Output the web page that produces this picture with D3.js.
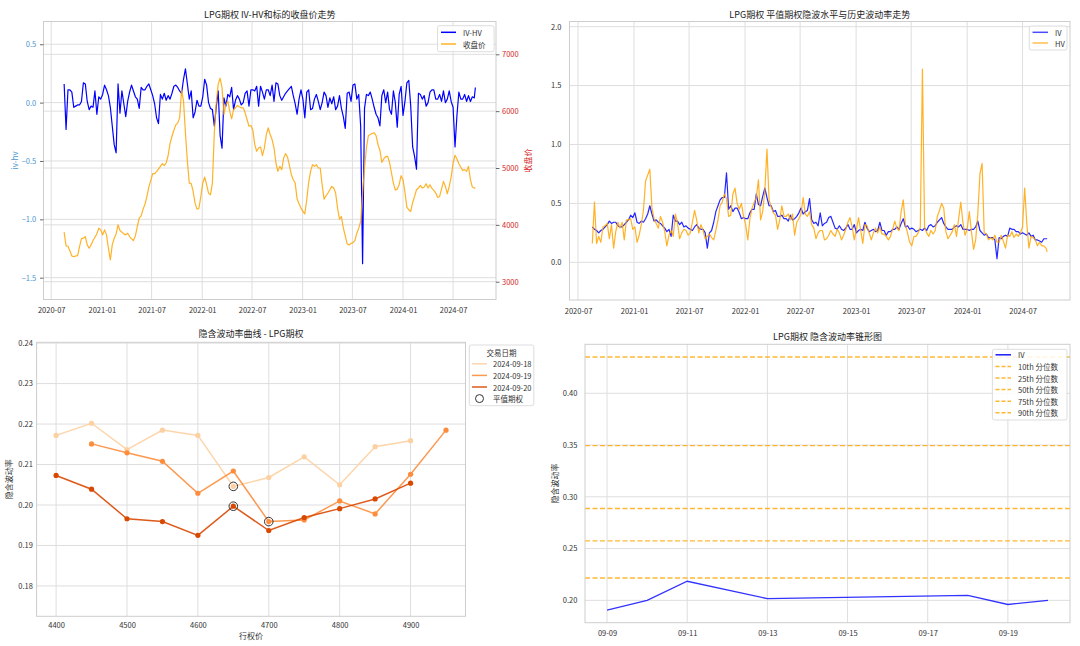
<!DOCTYPE html>
<html><head><meta charset="utf-8">
<script src="https://cdn.jsdelivr.net/npm/d3@7"></script>
<style>body{margin:0;background:#fff}svg{display:block}</style>
</head><body><svg id="chart" width="1080" height="646"></svg>
<script>
// ---------------- DATA ----------------
const weekStart = "2020-08-17";   // weekly observations, last one on lastDate
const lastDate = "2024-09-20";
const ivhv = [
 0.16,-0.23,0.11,0.11,0.09,-0.04,-0.03,-0.02,-0.02,0.01,
 0.17,0.16,0.01,-0.06,-0.03,-0.04,0.10,-0.10,0.05,0.03,
 0.07,0.15,0.11,0.06,-0.04,-0.20,-0.36,-0.43,0.16,-0.09,
 0.10,-0.01,-0.12,0.01,0.09,0.15,0.10,0.05,0.03,-0.05,
 0.13,0.11,0.11,0.14,0.16,0.11,0.06,-0.01,-0.13,-0.18,
 0.07,0.03,0.08,0.02,0.06,0.03,0.08,0.14,0.15,0.13,
 0.10,0.08,0.20,0.29,0.16,0.03,0.10,-0.13,-0.08,0.02,
 -0.03,-0.03,0.05,0.20,0.15,0.00,-0.05,-0.06,-0.20,-0.04,
 0.10,-0.28,-0.39,0.04,-0.03,0.07,0.05,0.13,-0.06,0.02,
 0.06,0.03,-0.02,0.00,0.08,0.10,-0.03,0.11,0.11,0.10,
 0.14,-0.03,0.14,0.09,0.03,0.11,0.11,0.06,0.15,0.01,
 0.17,0.16,0.06,0.02,0.05,0.08,0.10,0.12,0.14,0.06,
 -0.01,-0.10,0.03,0.11,0.03,-0.13,0.09,0.11,-0.06,-0.05,
 0.03,0.07,0.01,-0.06,0.00,0.09,0.06,-0.04,0.04,-0.01,
 0.05,-0.06,-0.03,0.06,-0.05,-0.12,-0.22,0.08,0.09,0.01,
 0.15,0.16,0.03,0.07,-0.20,-1.38,-0.05,0.07,0.06,0.09,
 0.03,-0.04,-0.10,-0.13,-0.20,0.06,0.11,0.00,0.09,-0.06,
 -0.10,0.10,0.00,-0.21,0.07,0.14,-0.11,0.01,0.17,0.19,
 -0.03,-0.38,-0.46,-0.57,0.08,0.07,0.03,0.06,-0.03,0.00,
 0.09,0.11,0.11,0.03,0.03,0.07,0.01,0.10,0.00,0.03,
 0.10,0.01,-0.04,-0.38,-0.11,0.09,0.03,0.03,0.07,0.01,
 0.06,0.01,0.05,0.04,0.13];
const closePrice = [
 3871,3629,3624,3541,3453,3441,3453,3459,3618,3759,
 3765,3794,3647,3588,3647,3724,3782,3841,3941,3912,
 3824,3912,3824,3588,3382,3647,3765,3841,4000,3900,
 3871,3841,3824,3853,3794,3753,3724,3806,3971,4118,
 4159,4276,4365,4500,4665,4782,4900,4900,4935,4982,
 5029,5076,5041,5088,5218,5429,5559,5665,5759,5794,
 5882,6371,6176,5618,5118,4735,4724,4588,4382,4276,
 4288,4500,4735,4841,4706,4559,4529,4735,5618,6147,
 6471,6582,6412,5941,6118,6176,6000,5865,6029,6059,
 6100,6076,6059,6059,5971,5853,5735,5747,5665,5412,
 5294,5353,5371,5218,5353,5588,5706,5588,5500,5353,
 5088,4941,5029,4971,5176,5253,5194,5041,4882,4794,
 4735,4453,4371,4294,4235,4194,4441,4747,4941,5059,
 5029,5059,5000,5000,4706,4453,4512,4559,4618,4676,
 4647,4559,4294,4100,4147,3941,3806,3665,3647,3676,
 3688,3724,3853,3941,4059,4559,5000,5353,5571,5588,
 5606,5618,5571,5412,5312,5100,5159,5200,5206,5100,
 4912,4735,4612,4629,4706,4865,4794,4571,4312,4265,
 4235,4394,4500,4618,4647,4694,4647,4665,4724,4647,
 4706,4641,4606,4559,4482,4500,4629,4765,4676,4547,
 4676,4841,5088,5224,5159,5076,5012,4959,4971,4941,
 5029,4794,4665,4647,4647];
const ivAtm = [
 0.30,0.28,0.27,0.25,0.27,0.28,0.30,0.32,0.35,0.33,
 0.34,0.34,0.31,0.30,0.30,0.32,0.34,0.36,0.40,0.38,
 0.42,0.34,0.33,0.35,0.34,0.37,0.41,0.48,0.41,0.35,
 0.36,0.34,0.33,0.31,0.29,0.26,0.28,0.22,0.40,0.35,
 0.35,0.32,0.34,0.30,0.31,0.29,0.28,0.27,0.30,0.32,
 0.29,0.28,0.28,0.25,0.12,0.25,0.27,0.34,0.43,0.48,
 0.53,0.55,0.55,0.76,0.45,0.48,0.43,0.46,0.46,0.42,
 0.37,0.38,0.37,0.37,0.42,0.45,0.45,0.58,0.49,0.48,
 0.56,0.63,0.55,0.48,0.48,0.43,0.44,0.39,0.39,0.40,
 0.37,0.37,0.35,0.40,0.36,0.37,0.39,0.42,0.46,0.41,
 0.43,0.44,0.54,0.36,0.33,0.34,0.31,0.42,0.31,0.33,
 0.34,0.38,0.39,0.34,0.29,0.28,0.31,0.28,0.27,0.29,
 0.32,0.28,0.28,0.32,0.25,0.27,0.28,0.27,0.34,0.29,
 0.26,0.27,0.28,0.26,0.27,0.34,0.27,0.27,0.23,0.26,
 0.26,0.28,0.28,0.30,0.28,0.33,0.37,0.30,0.31,0.28,
 0.29,0.28,0.26,0.27,0.28,0.27,0.29,0.27,0.31,0.32,
 0.30,0.31,0.34,0.36,0.38,0.33,0.30,0.28,0.28,0.28,
 0.30,0.31,0.30,0.32,0.28,0.28,0.28,0.27,0.28,0.28,
 0.30,0.35,0.27,0.25,0.23,0.24,0.21,0.21,0.21,0.19,
 0.03,0.21,0.20,0.22,0.23,0.22,0.29,0.28,0.28,0.26,
 0.26,0.24,0.25,0.24,0.23,0.25,0.22,0.23,0.19,0.19,
 0.18,0.17,0.20,0.20,0.20];
const hv = [
 0.16,0.51,0.16,0.22,0.17,0.30,0.31,0.33,0.20,0.32,
 0.12,0.26,0.34,0.29,0.34,0.19,0.36,0.36,0.37,0.28,
 0.30,0.17,0.23,0.32,0.44,0.69,0.74,0.79,0.46,0.37,
 0.33,0.29,0.39,0.34,0.26,0.14,0.23,0.27,0.22,0.41,
 0.33,0.20,0.25,0.28,0.27,0.23,0.25,0.34,0.44,0.36,
 0.25,0.32,0.27,0.20,0.22,0.24,0.21,0.19,0.27,0.36,
 0.48,0.51,0.58,0.54,0.39,0.40,0.58,0.63,0.50,0.45,
 0.50,0.39,0.32,0.19,0.37,0.46,0.51,0.55,0.70,0.36,
 0.43,0.61,0.96,0.53,0.47,0.42,0.40,0.28,0.36,0.48,
 0.39,0.39,0.41,0.36,0.41,0.23,0.34,0.37,0.41,0.55,
 0.41,0.39,0.43,0.32,0.29,0.20,0.25,0.27,0.27,0.19,
 0.20,0.23,0.27,0.24,0.22,0.28,0.25,0.19,0.23,0.28,
 0.34,0.38,0.30,0.19,0.28,0.38,0.27,0.16,0.32,0.31,
 0.25,0.19,0.25,0.29,0.25,0.30,0.24,0.24,0.22,0.19,
 0.22,0.28,0.35,0.29,0.27,0.43,0.53,0.32,0.25,0.17,
 0.14,0.22,0.22,0.25,0.30,1.64,0.30,0.25,0.22,0.27,
 0.24,0.27,0.39,0.44,0.50,0.46,0.26,0.20,0.23,0.26,
 0.32,0.22,0.37,0.51,0.34,0.23,0.28,0.43,0.26,0.11,
 0.19,0.41,0.75,0.84,0.25,0.24,0.19,0.21,0.19,0.23,
 0.17,0.17,0.23,0.18,0.12,0.23,0.22,0.26,0.21,0.24,
 0.22,0.25,0.30,0.63,0.33,0.12,0.22,0.21,0.19,0.14,
 0.17,0.14,0.14,0.12,0.09];

const yearTicks = ["2020-07-01","2021-01-01","2021-07-01","2022-01-01","2022-07-01","2023-01-01","2023-07-01","2024-01-01","2024-07-01"];
const ivhvTicks = [-1.5,-1.0,-0.5,0.0,0.5];
const priceTicks = [3000,4000,5000,6000,7000];
const volTicks = [0.0,0.5,1.0,1.5,2.0];

const strikes = [4400,4450,4500,4550,4600,4650,4700,4750,4800,4850,4900,4950];
const smileDates = ["2024-09-18","2024-09-19","2024-09-20"];
const smile0918 = [0.2172,0.2202,0.2137,0.2185,0.2172,0.2046,0.2068,0.2119,0.2050,0.2144,0.2159,null];
const smile0919 = [null,0.2151,0.2129,0.2108,0.2029,0.2084,0.1959,0.1963,0.2010,0.1978,0.2076,0.2185];
const smile0920 = [0.2073,0.2039,0.1966,0.1959,0.1925,0.1997,0.1937,0.1969,0.1991,0.2015,0.2054,null];
const atmStrike = [4650,4700,4650];
const atmIV = [0.2046,0.1959,0.1997];
const strikeTicks = [4400,4500,4600,4700,4800,4900];
const smileTicks = [0.18,0.19,0.20,0.21,0.22,0.23,0.24];

const coneDates = ["2024-09-09","2024-09-10","2024-09-11","2024-09-13","2024-09-18","2024-09-19","2024-09-20"];
const coneIV = [0.1906,0.2000,0.2184,0.2016,0.2048,0.1960,0.2000];
const pctLabels = ["10th 分位数","25th 分位数","50th 分位数","75th 分位数","90th 分位数"];
const pctValues = [0.2216,0.2574,0.2887,0.3494,0.4351];
const coneXTicks = ["2024-09-09","2024-09-11","2024-09-13","2024-09-15","2024-09-17","2024-09-19"];
const coneYTicks = [0.20,0.25,0.30,0.35,0.40];

// ---------------- HELPERS ----------------
const FONT = '"Noto Sans CJK SC","Noto Sans",sans-serif';
const TXT = "#333";
const GRID = "#dedede";
const parse = d3.utcParse("%Y-%m-%d");
const svg = d3.select("#chart");
const t0 = parse(weekStart);
const weekDates = ivhv.map((_, i) => i < ivhv.length - 1 ? d3.utcDay.offset(t0, 7 * i) : parse(lastDate));

function gridH(g, s, vals, x0, x1) {
  g.append("g").selectAll("line").data(vals).join("line")
   .attr("x1", x0).attr("x2", x1).attr("y1", d => s(d)).attr("y2", d => s(d))
   .attr("stroke", GRID).attr("stroke-width", 1);
}
function gridV(g, s, vals, y0, y1) {
  g.append("g").selectAll("line").data(vals).join("line")
   .attr("y1", y0).attr("y2", y1).attr("x1", d => s(d)).attr("x2", d => s(d))
   .attr("stroke", GRID).attr("stroke-width", 1);
}
function frame(g, x0, y0, x1, y1) {
  g.append("rect").attr("x", x0).attr("y", y0).attr("width", x1 - x0).attr("height", y1 - y0)
   .attr("fill", "none").attr("stroke", "#cdcdcd").attr("stroke-width", 1);
}
function addAxis(g, gen, tx, ty, color, size) {
  const a = g.append("g").attr("transform", `translate(${tx},${ty})`).call(gen);
  a.attr("font-family", FONT).attr("font-size", size);
  a.select(".domain").remove();
  a.selectAll(".tick text").attr("fill", color);
  a.selectAll(".tick line").attr("stroke", "#444").attr("stroke-width", 0.8);
  return a;
}
function title(x, y, s) {
  svg.append("text").attr("x", x).attr("y", y).attr("text-anchor", "middle")
   .attr("font-family", FONT).attr("font-size", 9).attr("fill", "#222").text(s);
}
function vlabel(x, y, s, color) {
  svg.append("text").attr("transform", `translate(${x},${y}) rotate(-90)`).attr("text-anchor", "middle")
   .attr("dominant-baseline", "central")
   .attr("font-family", FONT).attr("font-size", 8).attr("fill", color).text(s);
}
function legendBox(x, y, w, h) {
  svg.append("rect").attr("x", x).attr("y", y).attr("width", w).attr("height", h).attr("rx", 2)
   .attr("fill", "#fff").attr("fill-opacity", 0.85).attr("stroke", "#d4d4d4").attr("stroke-width", 0.8);
}
function legendLine(x0, x1, tx, y, label, color, opts = {}) {
  svg.append("line").attr("x1", x0).attr("x2", x1).attr("y1", y).attr("y2", y)
   .attr("stroke", color).attr("stroke-width", opts.w || 1.5).attr("stroke-opacity", opts.op || 1)
   .attr("stroke-dasharray", opts.dash || null);
  svg.append("text").attr("x", tx).attr("y", y).attr("dominant-baseline", "central")
   .attr("font-family", FONT).attr("font-size", 7.5).attr("fill", TXT).text(label);
}

// ---------------- PANEL 1 ----------------
{
  const L = 43.5, R = 496, T = 21.5, B = 299.5;
  const x = d3.scaleUtc().domain([parse("2020-06-03"), parse("2024-12-04")]).range([L, R]);
  const yl = d3.scaleLinear().domain([-1.687, 0.695]).range([B, T]);
  const yr = d3.scaleLinear().domain([2687, 7577]).range([B, T]);
  const g = svg.append("g");
  gridV(g, x, yearTicks.map(parse), T, B);
  gridH(g, yl, ivhvTicks, L, R);
  gridH(g, yr, priceTicks, L, R);
  g.append("path").datum(ivhv).attr("fill", "none").attr("stroke", "#0000ff").attr("stroke-width", 1.2)
   .attr("stroke-linejoin", "round")
   .attr("d", d3.line().x((d, i) => x(weekDates[i])).y(d => yl(d)));
  g.append("path").datum(closePrice).attr("fill", "none").attr("stroke", "#ffa500").attr("stroke-width", 1.2)
   .attr("stroke-opacity", 0.85).attr("stroke-linejoin", "round")
   .attr("d", d3.line().x((d, i) => x(weekDates[i])).y(d => yr(d)));
  frame(g, L, T, R, B);
  addAxis(g, d3.axisBottom(x).tickValues(yearTicks.map(parse)).tickFormat(d3.utcFormat("%Y-%m")).tickSize(0).tickPadding(8), 0, B, TXT, 7.5);
  addAxis(g, d3.axisLeft(yl).tickValues(ivhvTicks).tickFormat(d3.format(".1f")).tickSize(3.5).tickPadding(3.8), L, 0, "#4a95d0", 7.5);
  addAxis(g, d3.axisRight(yr).tickValues(priceTicks).tickFormat(d3.format("d")).tickSize(3.5).tickPadding(2.5), R, 0, "#d62728", 7.5);
  title((L + R) / 2, 17.5, "LPG期权  IV-HV和标的收盘价走势");
  vlabel(14, (T + B) / 2, "iv-hv", "#4a95d0");
  vlabel(527, (T + B) / 2, "收盘价", "#d62728");
  legendBox(437.5, 25.7, 56.6, 26);
  legendLine(441, 456, 463, 32.3, "IV-HV", "#0000ff");
  legendLine(441, 456, 463, 44, "收盘价", "#ffa500", {op: 0.85});
}

// ---------------- PANEL 2 ----------------
{
  const L = 569.5, R = 1070, T = 21.5, B = 300;
  const x = d3.scaleUtc().domain([parse("2020-06-03"), parse("2024-12-04")]).range([L, R]);
  const y = d3.scaleLinear().domain([-0.32, 2.044]).range([B, T]);
  const g = svg.append("g");
  gridV(g, x, yearTicks.map(parse), T, B);
  gridH(g, y, volTicks, L, R);
  g.append("path").datum(ivAtm).attr("fill", "none").attr("stroke", "#0000ff").attr("stroke-width", 1.2)
   .attr("stroke-opacity", 0.85).attr("stroke-linejoin", "round")
   .attr("d", d3.line().x((d, i) => x(weekDates[i])).y(d => y(d)));
  g.append("path").datum(hv).attr("fill", "none").attr("stroke", "#ffa500").attr("stroke-width", 1.2)
   .attr("stroke-opacity", 0.85).attr("stroke-linejoin", "round")
   .attr("d", d3.line().x((d, i) => x(weekDates[i])).y(d => y(d)));
  frame(g, L, T, R, B);
  addAxis(g, d3.axisBottom(x).tickValues(yearTicks.map(parse)).tickFormat(d3.utcFormat("%Y-%m")).tickSize(0).tickPadding(8.5), 0, B, TXT, 7.5);
  addAxis(g, d3.axisLeft(y).tickValues(volTicks).tickFormat(d3.format(".1f")).tickSize(0).tickPadding(8), L, 0, TXT, 7.5);
  title((L + R) / 2, 17.5, "LPG期权  平值期权隐波水平与历史波动率走势");
  legendBox(1029.3, 26, 37.7, 24);
  legendLine(1032.5, 1048, 1055, 32.3, "IV", "#0000ff", {op: 0.7});
  legendLine(1032.5, 1048, 1055, 43, "HV", "#ffa500", {op: 0.7});
}

// ---------------- PANEL 3 ----------------
{
  const L = 36.6, R = 465.5, T = 342.3, B = 616.3;
  const x = d3.scaleLinear().domain([4372.5, 4977.5]).range([L, R]);
  const y = d3.scaleLinear().domain([0.1725, 0.2402]).range([B, T]);
  const g = svg.append("g");
  gridV(g, x, strikeTicks, T, B);
  gridH(g, y, smileTicks, L, R);
  const series = [smile0918, smile0919, smile0920];
  const colors = ["#fdd0a2", "#fd8d3c", "#d94801"];
  series.forEach((s, k) => {
    const pts = strikes.map((st, i) => [st, s[i]]).filter(p => p[1] != null);
    g.append("path").datum(pts).attr("fill", "none").attr("stroke", colors[k]).attr("stroke-width", 1.5)
     .attr("stroke-opacity", 0.9)
     .attr("d", d3.line().x(p => x(p[0])).y(p => y(p[1])));
    g.append("g").selectAll("circle").data(pts).join("circle")
     .attr("cx", p => x(p[0])).attr("cy", p => y(p[1])).attr("r", 2.6).attr("fill", colors[k]);
  });
  g.append("g").selectAll("circle").data(atmIV).join("circle")
   .attr("cx", (d, i) => x(atmStrike[i])).attr("cy", d => y(d)).attr("r", 4.3)
   .attr("fill", "none").attr("stroke", "#333").attr("stroke-width", 1);
  frame(g, L, T, R, B);
  addAxis(g, d3.axisBottom(x).tickValues(strikeTicks).tickFormat(d3.format("d")).tickSize(0).tickPadding(6.5), 0, B, TXT, 7.5);
  addAxis(g, d3.axisLeft(y).tickValues(smileTicks).tickFormat(d3.format(".2f")).tickSize(0).tickPadding(3.8), L, 0, TXT, 7.5);
  title((L + R) / 2, 337.3, "隐含波动率曲线 - LPG期权");
  svg.append("text").attr("x", (L + R) / 2).attr("y", 639).attr("text-anchor", "middle")
   .attr("font-family", FONT).attr("font-size", 8).attr("fill", TXT).text("行权价");
  vlabel(8, (T + B) / 2, "隐含波动率", TXT);
  legendBox(469.3, 345, 64.5, 60.7);
  svg.append("text").attr("x", 501.5).attr("y", 352.5).attr("text-anchor", "middle").attr("dominant-baseline", "central")
   .attr("font-family", FONT).attr("font-size", 7.5).attr("fill", TXT).text("交易日期");
  smileDates.forEach((d, k) => legendLine(472, 487, 493, 363.8 + k * 11.6, d, colors[k], {op: 0.9}));
  svg.append("circle").attr("cx", 479.5).attr("cy", 398.6).attr("r", 4).attr("fill", "none")
   .attr("stroke", "#333").attr("stroke-width", 1);
  svg.append("text").attr("x", 493).attr("y", 398.6).attr("dominant-baseline", "central")
   .attr("font-family", FONT).attr("font-size", 7.5).attr("fill", TXT).text("平值期权");
}

// ---------------- PANEL 4 ----------------
{
  const L = 585, R = 1070, T = 344.3, B = 622.7;
  const x = d3.scaleUtc().domain([new Date(Date.UTC(2024, 8, 8, 10, 48)), new Date(Date.UTC(2024, 8, 20, 13, 12))]).range([L, R]);
  const y = d3.scaleLinear().domain([0.1784, 0.4473]).range([B, T]);
  const g = svg.append("g");
  gridV(g, x, coneXTicks.map(parse), T, B);
  gridH(g, y, coneYTicks, L, R);
  g.append("g").selectAll("line").data(pctValues).join("line")
   .attr("x1", L).attr("x2", R).attr("y1", d => y(d)).attr("y2", d => y(d))
   .attr("stroke", "#ffa500").attr("stroke-opacity", 0.8).attr("stroke-width", 1.4).attr("stroke-dasharray", "5,2.5");
  g.append("path").datum(coneIV).attr("fill", "none").attr("stroke", "#0000ff").attr("stroke-opacity", 0.8)
   .attr("stroke-width", 1.3)
   .attr("d", d3.line().x((d, i) => x(parse(coneDates[i]))).y(d => y(d)));
  frame(g, L, T, R, B);
  addAxis(g, d3.axisBottom(x).tickValues(coneXTicks.map(parse)).tickFormat(d3.utcFormat("%m-%d")).tickSize(0).tickPadding(7.5), 0, B, TXT, 7.5);
  addAxis(g, d3.axisLeft(y).tickValues(coneYTicks).tickFormat(d3.format(".2f")).tickSize(0).tickPadding(7.7), L, 0, TXT, 7.5);
  title((L + R) / 2, 340.3, "LPG期权  隐含波动率锥形图");
  vlabel(554, (T + B) / 2, "隐含波动率", TXT);
  legendBox(992.4, 349.3, 74.6, 70.7);
  legendLine(995.5, 1011, 1018, 354.8, "IV", "#0000ff", {op: 0.9});
  pctLabels.forEach((lab, k) => legendLine(995.5, 1011, 1018, 366.4 + k * 11.6, lab, "#ffa500", {op: 0.8, dash: "4,2"}));
}
</script></body></html>
